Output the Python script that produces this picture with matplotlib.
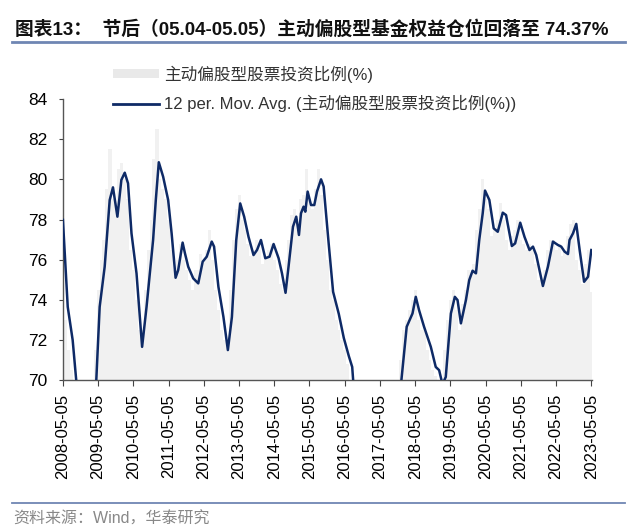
import matplotlib
matplotlib.use("Agg")
import matplotlib.pyplot as plt
from matplotlib.lines import Line2D
from matplotlib.patches import Patch
import pandas as pd

plt.rcParams['font.family'] = ['Liberation Sans', 'Noto Sans CJK SC', 'DejaVu Sans']

title = "图表13：  节后（05.04-05.05）主动偏股型基金权益仓位回落至 74.37%"
source = "资料来源：Wind，华泰研究"
bar_label = "主动偏股型股票投资比例(%)"
line_label = "12 per. Mov. Avg. (主动偏股型股票投资比例(%))"

# monthly bars, 2008-05 .. 2023-05
bar_start = "2008-05-05"
bar_values = [
    77.5, 73.0, 71.5, 70.5, 68.0, 67.0, 66.5, 67.0,
    67.0, 68.5, 69.5, 71.5, 74.5, 76.0, 77.0, 79.5, 81.5, 79.0, 78.8, 80.5,
    80.8, 80.0, 79.0, 76.5, 75.5, 74.0, 72.5, 72.5, 74.5, 76.5, 78.0, 81.0,
    82.5, 80.0, 79.5, 79.0, 78.0, 76.5, 75.5, 76.0, 76.8, 76.0, 75.5, 75.0,
    74.5, 75.5, 75.5, 76.3, 76.0, 76.5, 77.5, 76.0, 74.5, 73.5, 72.5, 72.0,
    72.0, 74.5, 77.0, 78.5, 79.2, 78.0, 77.5, 76.8, 76.2, 76.5, 77.0, 76.5,
    75.8, 76.2, 76.5, 76.8, 76.0, 75.5, 74.8, 74.5, 76.0, 77.0, 78.2, 78.5,
    77.5, 79.0, 79.2, 80.5, 79.0, 78.5, 79.5, 80.5, 79.2, 77.5, 76.0, 74.5,
    74.0, 73.0, 72.5, 72.0, 71.5, 70.8, 70.0, 68.5, 68.0, 67.5, 68.0, 67.5,
    67.0, 67.5, 67.8, 67.2, 67.5, 67.8, 68.0, 68.2, 68.6, 69.0, 69.5, 71.0,
    72.5, 73.0, 73.5, 74.0, 74.5, 73.0, 72.5, 72.5, 71.5, 71.0, 70.5, 70.2,
    70.0, 69.5, 71.5, 73.0, 74.0, 74.5, 73.5, 72.5, 73.8, 74.5, 75.5, 75.2,
    75.8, 77.5, 78.5, 80.0, 79.0, 78.5, 77.2, 77.5, 78.0, 78.8, 78.0, 77.0,
    76.5, 77.2, 77.5, 78.0, 77.0, 76.8, 76.5, 76.8, 76.5, 75.8, 75.0, 75.0,
    75.5, 76.5, 77.0, 77.0, 76.5, 76.8, 76.2, 76.5, 77.2, 77.8, 78.0, 76.0,
    75.5, 74.8, 75.8, 76.5, 74.37,
]

# 12 period moving average
ma_dates = [
    "2008-05-05", "2008-06-24", "2008-08-14", "2008-09-20", "2008-10-20", "2009-01-10",
    "2009-03-10", "2009-04-16", "2009-05-21", "2009-07-12", "2009-09-02", "2009-10-06",
    "2009-11-21", "2010-01-01", "2010-02-05", "2010-03-11", "2010-04-16", "2010-06-07",
    "2010-08-04", "2010-09-19", "2010-11-26", "2010-12-24", "2011-01-24", "2011-03-10",
    "2011-05-01", "2011-06-06", "2011-07-17", "2011-08-13", "2011-09-28", "2011-10-22",
    "2011-11-25", "2012-01-16", "2012-03-08", "2012-04-23", "2012-06-04", "2012-07-26",
    "2012-08-19", "2012-10-03", "2012-11-24", "2013-01-09", "2013-02-20", "2013-04-06",
    "2013-05-17", "2013-06-27", "2013-08-11", "2013-10-02", "2013-11-07", "2013-12-18",
    "2014-02-01", "2014-03-17", "2014-04-28", "2014-06-19", "2014-07-24", "2014-08-30",
    "2014-09-30", "2014-11-15", "2014-12-19", "2015-01-16", "2015-02-06", "2015-03-05",
    "2015-03-23", "2015-04-16", "2015-05-21", "2015-06-24", "2015-07-22", "2015-09-02",
    "2015-09-29", "2015-11-20", "2016-01-05", "2016-03-04", "2016-04-25", "2016-06-16",
    "2016-07-21", "2016-07-31", "2016-09-15", "2017-06-01", "2017-11-20", "2017-12-13",
    "2018-02-06", "2018-04-07", "2018-05-11", "2018-06-14", "2018-08-05", "2018-10-14",
    "2018-12-04", "2019-01-08", "2019-02-12", "2019-03-18", "2019-05-10", "2019-06-20",
    "2019-07-18", "2019-08-22", "2019-10-13", "2019-11-16", "2019-12-21", "2020-01-25",
    "2020-02-28", "2020-04-04", "2020-04-28", "2020-06-12", "2020-07-27", "2020-09-07",
    "2020-10-29", "2020-12-02", "2021-01-31", "2021-03-06", "2021-04-28", "2021-06-11",
    "2021-08-02", "2021-09-07", "2021-10-11", "2021-12-19", "2022-02-09", "2022-04-02",
    "2022-05-24", "2022-06-27", "2022-08-01", "2022-09-05", "2022-09-21", "2022-10-27",
    "2022-11-30", "2023-01-04", "2023-02-19", "2023-04-01", "2023-05-05",
]
ma_values = [
    77.98, 73.65, 72.0, 70.0, 68.5, 67.5,
    68.0, 70.0, 73.65, 75.65, 78.97, 79.6,
    78.14, 79.97, 80.33, 79.8, 77.31, 75.32,
    71.66, 73.65, 76.98, 78.97, 80.85, 80.13,
    78.97, 77.31, 75.1, 75.48, 76.85, 76.32,
    75.65, 75.07, 74.82, 75.9, 76.15, 76.9,
    76.65, 74.65, 73.15, 71.5, 73.15, 76.98,
    78.8, 78.14, 77.14, 76.23, 76.48, 76.98,
    76.07, 76.15, 76.78, 76.07, 75.32, 74.35,
    75.65, 77.64, 78.14, 77.23, 78.31, 78.64,
    78.39, 79.39, 78.72, 78.72, 79.39, 80.0,
    79.64, 76.81, 74.4, 73.3, 72.1, 71.2,
    70.66, 70.0, 68.5, 67.5, 69.0, 70.0,
    72.66, 73.32, 74.15, 73.49, 72.66, 71.66,
    70.66, 70.5, 69.8, 70.16, 73.32, 74.15,
    73.99, 72.83, 73.99, 74.98, 75.45, 75.32,
    76.98, 78.31, 79.44, 78.97, 77.56, 77.39,
    78.34, 78.22, 76.68, 76.81, 77.84, 77.14,
    76.48, 76.65, 76.23, 74.69, 75.65, 76.9,
    76.73, 76.65, 76.4, 76.28, 76.98, 77.31,
    77.78, 76.48, 74.9, 75.15, 76.48,
]

tick_years = list(range(2008, 2024))

bar_dates = pd.date_range(bar_start, periods=len(bar_values), freq=pd.DateOffset(months=1))
ma_x = pd.to_datetime(ma_dates)

fig = plt.figure(figsize=(6.4, 5.31), dpi=100)
ax = fig.add_axes([0.098, 0.284, 0.827, 0.5296])

ax.bar(bar_dates, bar_values, width=32, color="#f1f1f1", linewidth=0, zorder=1)
ax.plot(ma_x, ma_values, color="#0e2a66", linewidth=1.8, zorder=3)

ax.set_ylim(70, 84)
ax.set_yticks(range(70, 85, 2))
ax.set_xlim(pd.Timestamp("2008-05-03"), pd.Timestamp("2023-05-12"))
ticks = [pd.Timestamp(f"{y}-05-05") for y in tick_years]
ax.set_xticks(ticks)
ax.set_xticklabels([t.strftime("%Y-%m-%d") for t in ticks], rotation=90, fontsize=12)
ax.tick_params(axis="y", labelsize=12.5, length=3, color="#444444", pad=8)
ax.tick_params(axis="x", length=4, color="#444444", pad=6)
for s in ["top", "right"]:
    ax.spines[s].set_visible(False)
for s in ["left", "bottom"]:
    ax.spines[s].set_color("#555555")
    ax.spines[s].set_linewidth(1.0)

handles = [Patch(facecolor="#e9e9e9", edgecolor="none"),
           Line2D([0], [0], color="#0e2a66", linewidth=2.0)]
leg = fig.legend(handles, [bar_label, line_label], loc="upper left",
                 bbox_to_anchor=(0.176, 0.877), frameon=False, fontsize=12,
                 handlelength=2.8, handleheight=0.5, handletextpad=0.3,
                 labelspacing=0.75, borderpad=0, borderaxespad=0)
for t in leg.get_texts():
    t.set_color("#333333")

fig.text(0.024, 0.945, title, fontsize=13.5, fontweight="bold", color="#111111",
         va="center", ha="left")
fig.add_artist(Line2D([0.018, 0.977], [0.921, 0.921], color="#6f86b3", linewidth=2.0))
fig.add_artist(Line2D([0.018, 0.977], [0.053, 0.053], color="#6f86b3", linewidth=1.3))
fig.text(0.021, 0.023, source, fontsize=11.5, color="#888888", va="center", ha="left")

fig.savefig("out.png", dpi=100)
